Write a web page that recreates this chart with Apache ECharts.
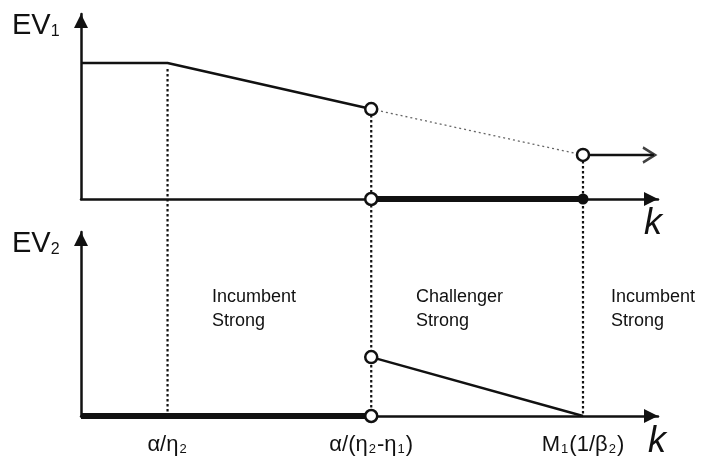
<!DOCTYPE html>
<html><head><meta charset="utf-8">
<script src="https://cdn.jsdelivr.net/npm/echarts@6/dist/echarts.min.js"></script>
<style>html,body{margin:0;padding:0;background:#fff}#c{width:706px;height:460px}</style>
</head><body><div id="c"></div>
<script>
// ---- data ----
const kTicks = [1.5, 5.03, 8.7];
const kTickLabels = ['{n|α/η}{s|2}', '{n|α/(η}{s|2}{n|-η}{s|1}{n|)}', '{n|M}{s|1}{n|(1/β}{s|2}{n|)}'];
const ev1Solid = [[0, 7.35], [1.5, 7.35], [5.03, 4.86]];
const ev1Dotted = [[5.03, 4.86], [8.7, 2.38]];
const ev1Right = [[8.7, 2.38], [9.93, 2.38]];
const ev1AxisThick = [[5.03, 0], [8.7, 0]];
const ev1OpenPts = [[5.03, 4.86], [8.7, 2.38], [5.03, 0]];
const ev1FilledPts = [[8.7, 0]];
const ev2Solid = [[5.03, 3.2], [8.7, 0]];
const ev2AxisThick = [[0, 0], [5.03, 0]];
const ev2OpenPts = [[5.03, 3.2], [5.03, 0]];
const guideTops = [7.35, 4.86, 2.38]; // EV1 value where each vertical guide starts
const regionLabels = ['Incumbent\nStrong', 'Challenger\nStrong', 'Incumbent\nStrong'];

const FONT = '"Liberation Sans", Arial, sans-serif';
const chart = echarts.init(document.getElementById('c'), null, {renderer: 'canvas'});
const axisLine = {show: true, lineStyle: {color: '#111', width: 2.5}, symbol: ['none', 'triangle'],
  symbolSize: [14, 14], symbolOffset: [0, -7]};
function xAx(gi, showLabels) {
  return {type: 'value', gridIndex: gi, min: 0, max: 10, splitLine: {show: false},
    axisLine: axisLine, axisTick: {show: false},
    axisLabel: showLabels ? {show: true, customValues: kTicks, margin: 18,
      fontSize: 22, fontFamily: FONT, color: '#111',
      formatter: v => kTickLabels[kTicks.indexOf(v)] || '',
      rich: {
        n: {fontSize: 22, fontFamily: FONT, color: '#111'},
        s: {fontSize: 13, fontFamily: FONT, color: '#111', verticalAlign: 'bottom', padding: [6, 1, 0, 1]}
      }} : {show: false}};
}
function yAx(gi) {
  return {type: 'value', gridIndex: gi, min: 0, max: 10, splitLine: {show: false},
    axisLine: axisLine, axisTick: {show: false}, axisLabel: {show: false}};
}
function line(gi, data, width, extra) {
  return Object.assign({type: 'line', xAxisIndex: gi, yAxisIndex: gi, data: data, showSymbol: false,
    symbol: 'none', silent: true, animation: false, clip: false,
    lineStyle: {color: '#111', width: width}}, extra || {});
}
function pts(gi, data, filled, size) {
  return {type: 'scatter', xAxisIndex: gi, yAxisIndex: gi, data: data, symbol: 'circle', symbolSize: size,
    animation: false, z: 5, silent: true,
    itemStyle: {color: filled ? '#111' : '#fff', borderColor: '#111', borderWidth: filled ? 0 : 2.5, opacity: 1}};
}
const option = {
  backgroundColor: '#fff',
  animation: false,
  grid: [
    {left: 81, top: 14, width: 577, height: 185},
    {left: 81, top: 232, width: 577, height: 184}
  ],
  xAxis: [xAx(0, false), xAx(1, true)],
  yAxis: [yAx(0), yAx(1)],
  series: [
    line(0, ev1Solid, 2.5),
    line(0, ev1Dotted, 1.3, {lineStyle: {color: '#666', width: 1.3, type: [2, 3]}}),
    line(0, ev1Right, 2.5),
    line(0, ev1AxisThick, 6),
    pts(0, ev1OpenPts, false, 12),
    pts(0, ev1FilledPts, true, 11),
    {type: 'scatter', xAxisIndex: 0, yAxisIndex: 0, data: [ev1Right[1]], symbol: 'path://M0,0L10,6L0,12',
      symbolSize: [12, 15], symbolOffset: [-5, 0], animation: false, z: 5, silent: true,
      itemStyle: {color: 'none', borderColor: '#111', borderWidth: 2.5}},
    line(1, ev2Solid, 2.5),
    line(1, ev2AxisThick, 6),
    pts(1, ev2OpenPts, false, 12)
  ]
};
chart.setOption(option);

// vertical dotted guides, from EV1 curve down to EV2 axis, via the library scales
const gfx = [];
kTicks.forEach((k, i) => {
  const p1 = chart.convertToPixel({gridIndex: 0}, [k, guideTops[i]]);
  const p2 = chart.convertToPixel({gridIndex: 1}, [k, 0]);
  gfx.push({type: 'line', z: 1, silent: true,
    shape: {x1: p1[0], y1: p1[1] + 6, x2: p2[0], y2: p2[1]},
    style: {stroke: '#111', lineWidth: 2.2, lineDash: [2.5, 2.5]}});
});
const rich = {s: {fontSize: 16, fontFamily: FONT, fill: '#111', verticalAlign: 'bottom', padding: [9, 0, 0, 0]}};
gfx.push({type: 'text', left: 12, top: 11, z: 10, style: {text: 'EV{s|1}', fontSize: 29, fontFamily: FONT, fill: '#111', rich: rich}});
gfx.push({type: 'text', left: 12, top: 229, z: 10, style: {text: 'EV{s|2}', fontSize: 29, fontFamily: FONT, fill: '#111', rich: rich}});
gfx.push({type: 'text', left: 644, top: 206, z: 10, style: {text: 'k', fontSize: 36, fontStyle: 'italic', fontFamily: FONT, fill: '#111'}});
gfx.push({type: 'text', left: 648, top: 424, z: 10, style: {text: 'k', fontSize: 36, fontStyle: 'italic', fontFamily: FONT, fill: '#111'}});
const regX = [212, 416, 611];
regionLabels.forEach((t, i) => {
  gfx.push({type: 'text', left: regX[i], top: 285, z: 10,
    style: {text: t, fontSize: 18, lineHeight: 24, fontFamily: FONT, fill: '#111'}});
});
chart.setOption({graphic: gfx});
</script>
</body></html>
